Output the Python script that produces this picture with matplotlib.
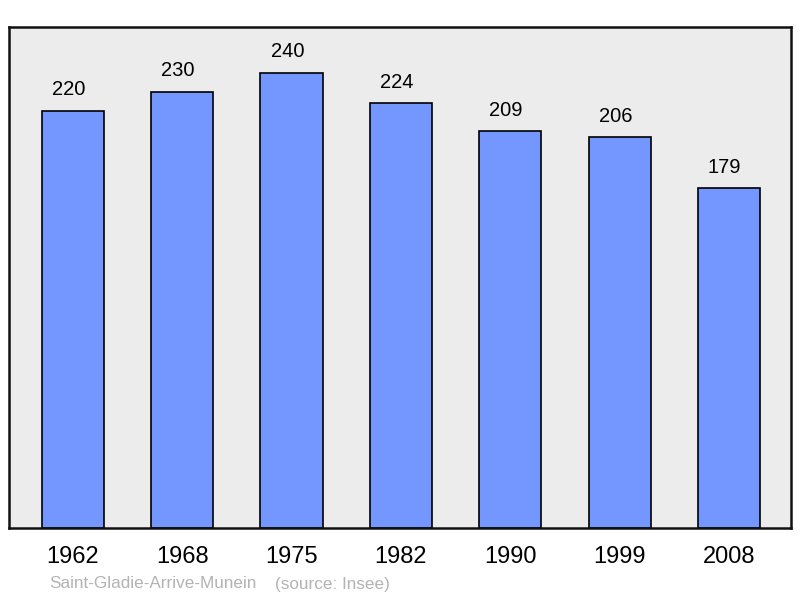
import numpy as np
import matplotlib.pyplot as plt

plt.rcParams['font.family'] = ['Liberation Sans', 'DejaVu Sans']

years = ['1962', '1968', '1975', '1982', '1990', '1999', '2008']
population = [220, 230, 240, 224, 209, 206, 179]
commune = 'Saint-Gladie-Arrive-Munein'
source = '(source: Insee)'

fig = plt.figure(figsize=(8.0, 5.98), dpi=100)
# axes box in pixels: x 9..791, y 27..528
ax = fig.add_axes([9 / 800, (598 - 528) / 598, 782 / 800, 501 / 598])
ax.set_facecolor('#ececec')

x = np.arange(len(years))
ax.bar(x, population, width=0.57, color='#7396ff', edgecolor='black', linewidth=1.2, zorder=2)

for xi, v in zip(x, population):
    ax.text(xi - 0.04, v + 6, str(v), ha='center', va='bottom', fontsize=14.5, color='black')

ax.set_xlim(-0.585, 6.567)
ax.set_ylim(0, 264)
ax.set_yticks([])
ax.set_xticks(x)
ax.set_xticklabels(years, fontsize=17)
ax.tick_params(axis='x', length=0, pad=13)

for s in ax.spines.values():
    s.set_linewidth(1.8)
    s.set_color('#111111')

fig.text(49 / 800, 1 - 584 / 598, commune, fontsize=12.3, color='#b3b3b3', va='center', ha='left')
fig.text(275 / 800, 1 - 584 / 598, source, fontsize=12.3, color='#b3b3b3', va='center', ha='left')

fig.savefig('out.png', dpi=100)
